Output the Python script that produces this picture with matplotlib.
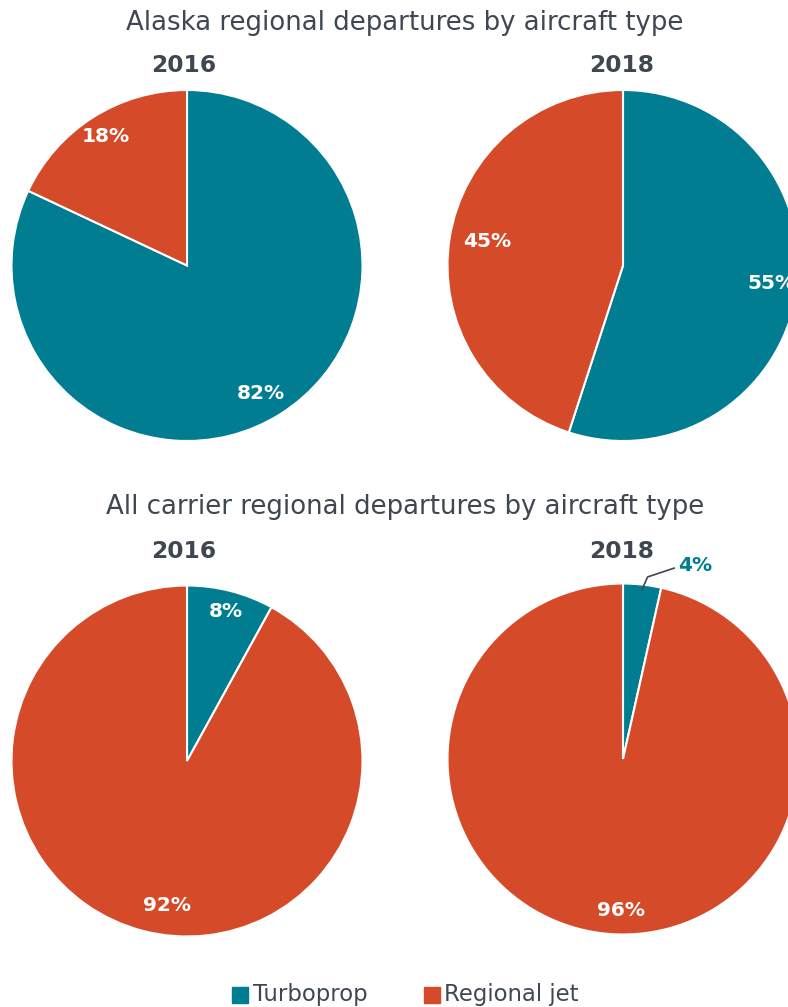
import matplotlib
matplotlib.use("Agg")
import matplotlib.pyplot as plt
import numpy as np

plt.rcParams['font.family'] = ['DejaVu Sans']

# ---- data ----
categories = ["Turboprop", "Regional jet"]
alaska_2016 = [82, 18]
alaska_2018 = [55, 45]
all_2016 = [8, 92]
all_2018 = [3.5, 96.5]
alaska_labels_2016 = ["82%", "18%"]
alaska_labels_2018 = ["55%", "45%"]
all_labels_2016 = ["8%", "92%"]
all_labels_2018 = ["4%", "96%"]
years = ["2016", "2018"]
titles = ["Alaska regional departures by aircraft type",
          "All carrier regional departures by aircraft type"]

TEAL = "#007D91"
RED = "#D54A29"
TXT = "#3E4752"
colors = [TEAL, RED]

W, H = 788, 1007
fig = plt.figure(figsize=(W / 100, H / 100), dpi=100)

R = 175.5

def pie_ax(cx, cy):
    return fig.add_axes([(cx - R) / W, (H - cy - R) / H, 2 * R / W, 2 * R / H])

def draw(ax, values, labels, place, outside=None):
    wedges, _ = ax.pie(values, colors=colors, startangle=90, counterclock=False,
                       radius=1, wedgeprops=dict(edgecolor='white', linewidth=1.5))
    ax.set_xlim(-1, 1)
    ax.set_ylim(-1, 1)
    ax.set_aspect('equal')
    ax.axis('off')
    for i, (w, lab) in enumerate(zip(wedges, labels)):
        mid_deg = (w.theta1 + w.theta2) / 2
        if outside is not None and i == outside:
            mid = np.deg2rad(mid_deg)
            x0, y0 = 0.965 * np.cos(mid), 0.965 * np.sin(mid)
            ax.plot([x0, x0 + 0.034, x0 + 0.19], [y0, y0 + 0.078, y0 + 0.13],
                    color=TXT, lw=1.2, clip_on=False, solid_capstyle='butt')
            ax.text(x0 + 0.21, y0 + 0.142, lab, color=TEAL, fontsize=14.5,
                    fontweight='bold', ha='left', va='center')
            continue
        frac, dang = place[i]
        a = np.deg2rad(mid_deg + dang)
        ax.text(frac * np.cos(a), frac * np.sin(a), lab, color='white',
                fontsize=14.5, fontweight='bold', ha='center', va='center')

ax1 = pie_ax(187, 265.5)
draw(ax1, alaska_2016, alaska_labels_2016, [(0.84, -2.3), (0.866, -0.2)])
ax2 = pie_ax(623, 265.5)
draw(ax2, alaska_2018, alaska_labels_2018, [(0.85, 1.9), (0.787, -1.2)])
ax3 = pie_ax(187, 761)
draw(ax3, all_2016, all_labels_2016, [(0.878, 0.0), (0.834, 6.5)])
ax4 = pie_ax(623, 759)
draw(ax4, all_2018, all_labels_2018, [(0.88, 0.0), (0.866, 5.55)], outside=0)

def ftext(x, y, s, **kw):
    fig.text(x / W, 1 - y / H, s, ha='center', va='center', color=TXT, **kw)

ftext(405, 23, titles[0], fontsize=18.7)
ftext(405, 507, titles[1], fontsize=18.7)
for yy in (66, 552):
    ftext(184, yy, years[0], fontsize=16.8, fontweight='bold')
    ftext(622, yy, years[1], fontsize=16.8, fontweight='bold')

# legend
for (sx, tx, lab, col) in [(232, 253, categories[0], TEAL), (424, 444, categories[1], RED)]:
    fig.patches.append(plt.Rectangle((sx / W, 1 - 1003 / H), 16 / W, 16 / H,
                                     transform=fig.transFigure, color=col))
    fig.text(tx / W, 1 - 995 / H, lab, ha='left', va='center', color=TXT, fontsize=16.4)

fig.savefig("out.png", dpi=100)
